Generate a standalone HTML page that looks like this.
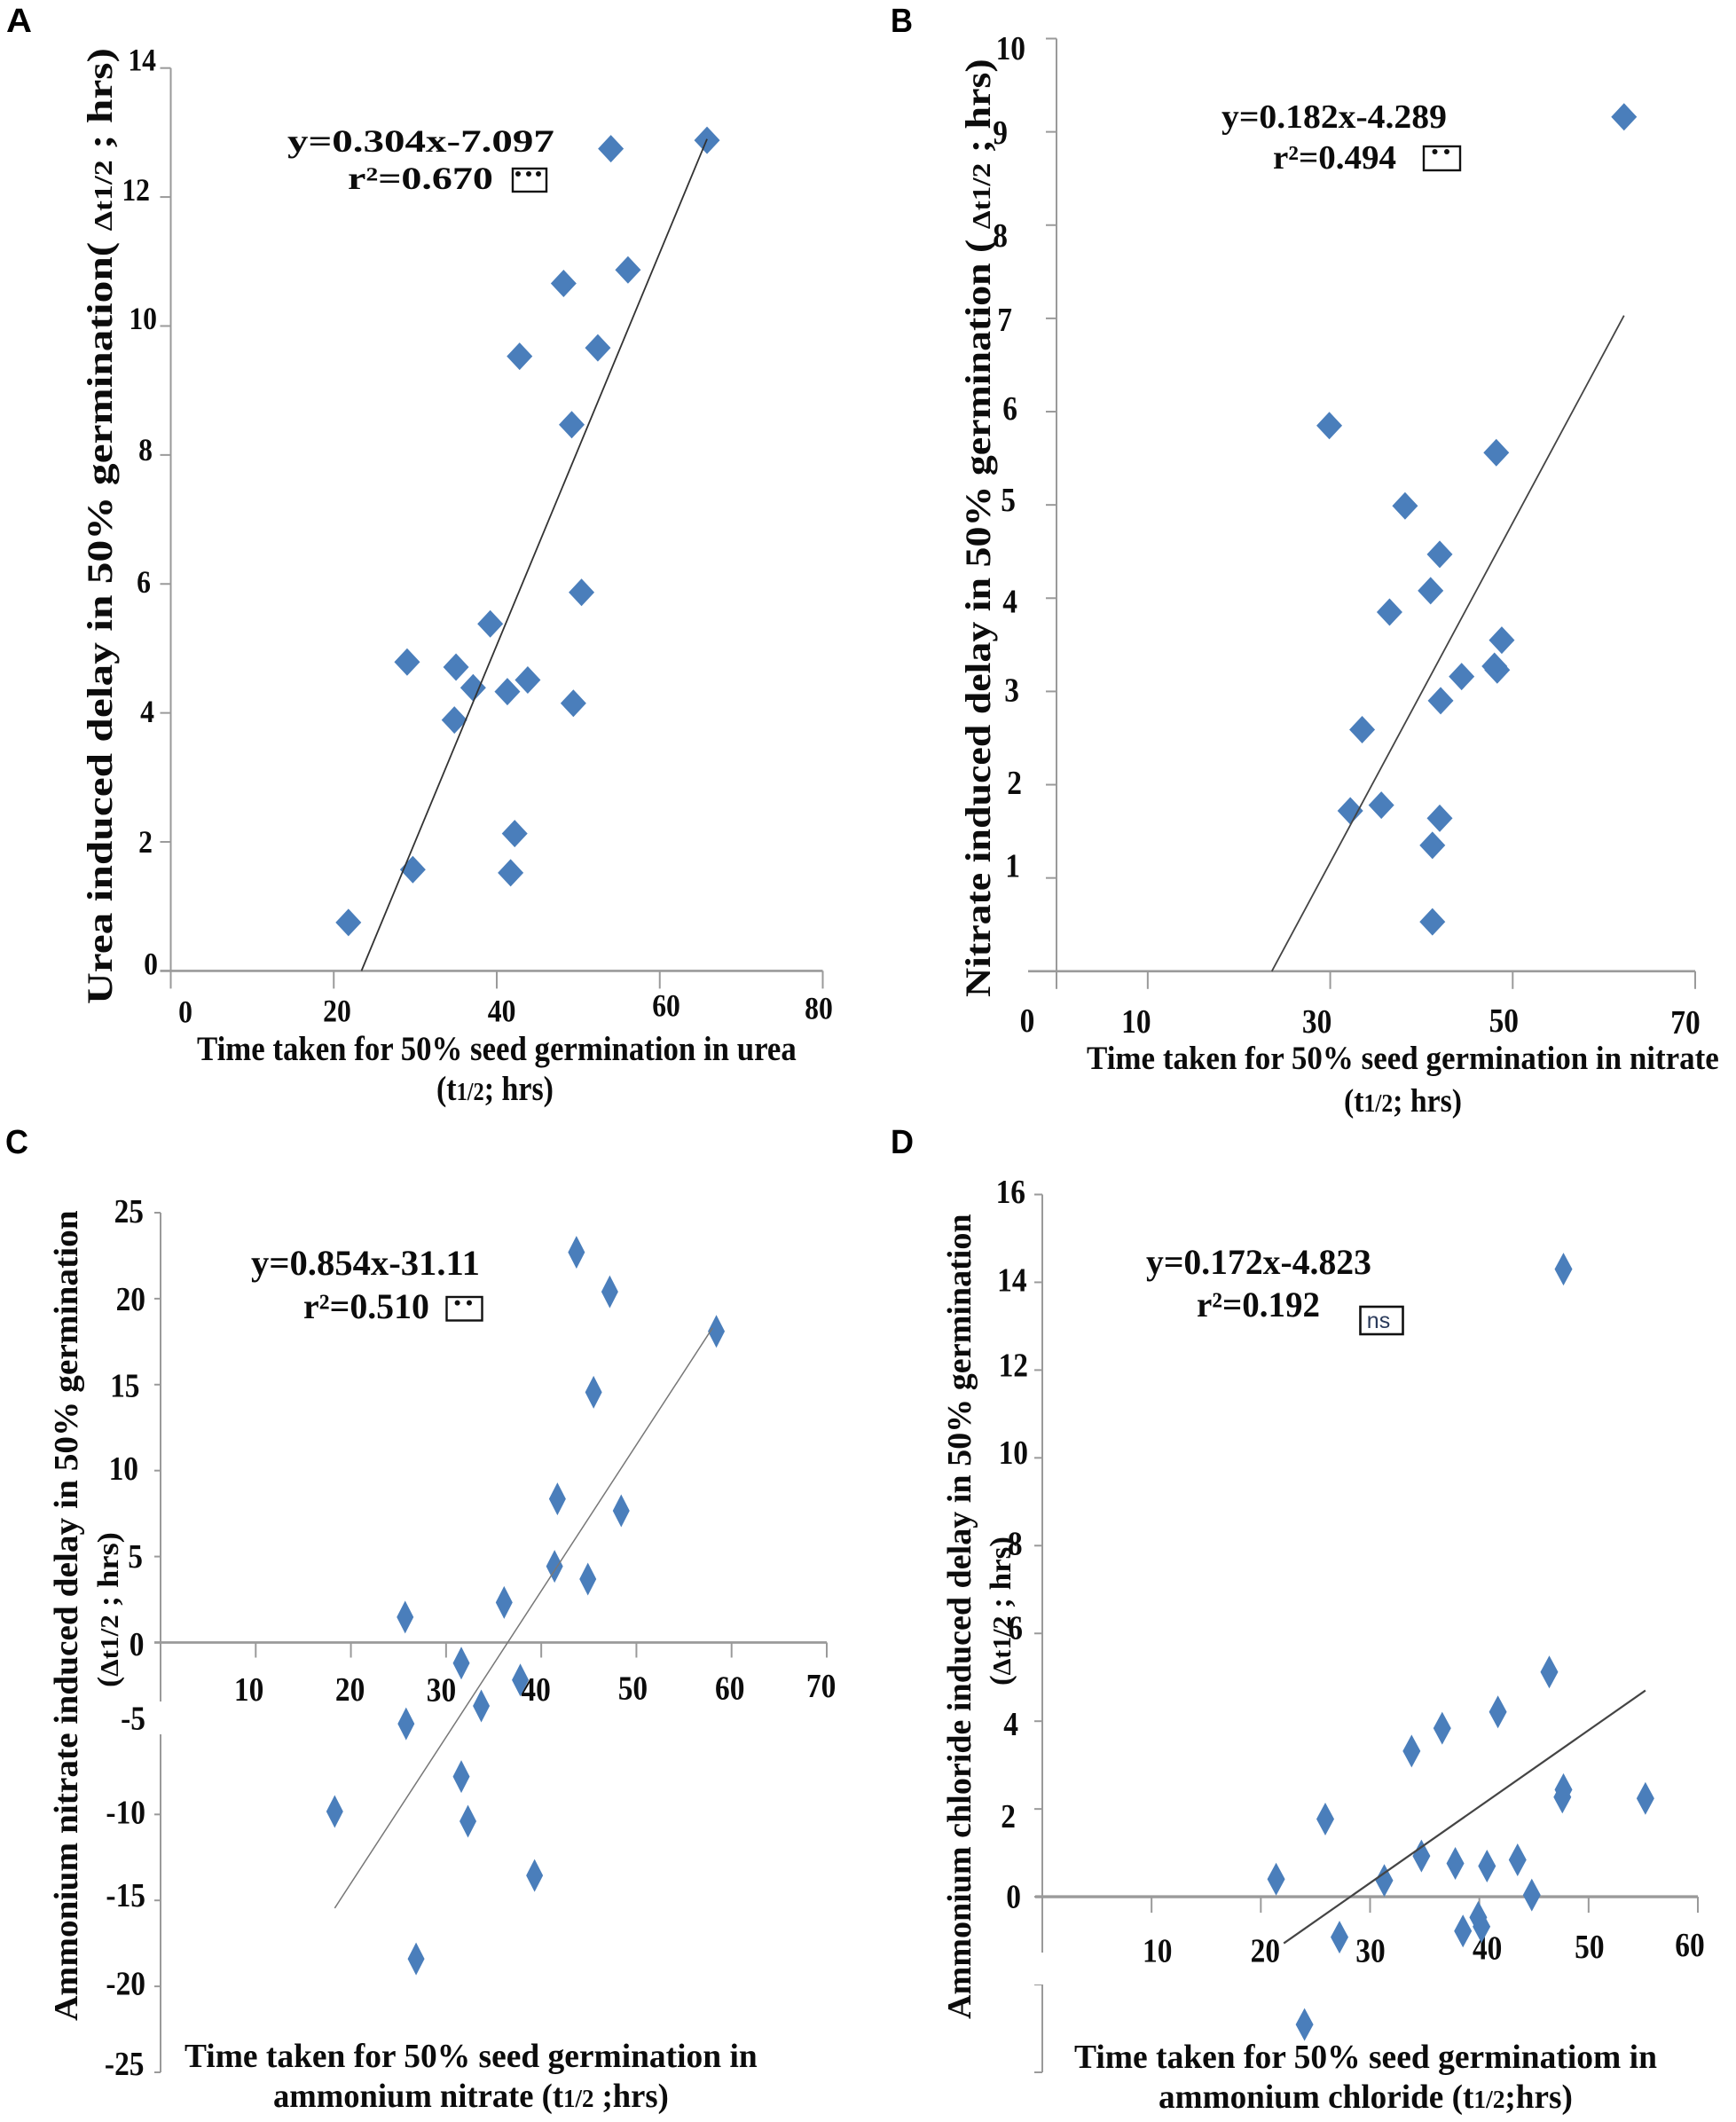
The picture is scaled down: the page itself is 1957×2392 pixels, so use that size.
<!DOCTYPE html>
<html lang="en">
<head>
<meta charset="utf-8">
<title>Germination delay scatter plots</title>
<style>
html,body{margin:0;padding:0;background:#fff;width:1957px;height:2392px;overflow:hidden}
svg{display:block}
text{font-family:"Liberation Serif",serif;font-weight:bold;fill:#0c0c0c}
.letter{font-family:"Liberation Sans",sans-serif;font-size:38px;fill:#000}
.eq{font-size:38px}
.xt{font-size:38px}
.yt{font-size:40px}
.sub{font-size:28px}
.dsub{font-size:29px}
</style>
</head>
<body>
<svg id="figure" xmlns="http://www.w3.org/2000/svg" width="1957" height="2392" viewBox="0 0 1957 2392">
  <rect width="1957" height="2392" fill="#fff"/>

  <g id="panel-a"></g>
  <g id="panel-b"></g>
  <g id="panel-c"></g>
  <g id="panel-d"></g>

  <!-- Panel letters -->
  <text class="letter" data-fit="29" x="7" y="36">A</text>
  <text class="letter" data-fit="25" x="1004" y="36">B</text>
  <text class="letter" data-fit="26" x="6" y="1300">C</text>
  <text class="letter" data-fit="26" x="1004" y="1300">D</text>

  <!-- Panel A text -->
  <text class="yt" data-fit="1078" data-rot="-90" x="126" y="1132">Urea induced delay in 50% germination( <tspan class="dsub">Δt1/2</tspan> ; hrs)</text>
  <text class="xt" style="font-size:39px" data-fit="676" x="222" y="1195">Time taken for 50% seed germination in urea</text>
  <text class="xt" style="font-size:39px" data-fit="132" x="492" y="1240">(t<tspan class="sub">1/2</tspan>; hrs)</text>
  <text class="eq" style="font-size:36px" data-fit="301" x="324" y="171">y=0.304x-7.097</text>
  <text class="eq" style="font-size:36px" data-fit="164" x="392" y="213">r²=0.670</text>
  <g>
    <rect x="578" y="190" width="38" height="26" fill="#fff" stroke="#111" stroke-width="2.4"/>
    <circle cx="584" cy="196" r="3" fill="#111"/><circle cx="596" cy="196" r="3" fill="#111"/><circle cx="607" cy="196" r="3" fill="#111"/>
  </g>

  <!-- Panel B text -->
  <text class="yt" data-fit="1058" data-rot="-90" x="1116" y="1124">Nitrate induced delay in 50% germination ( <tspan class="dsub">Δt1/2</tspan> ; hrs)</text>
  <text class="xt" style="font-size:37px" data-fit="713" x="1225" y="1205">Time taken for 50% seed germination in nitrate</text>
  <text class="xt" style="font-size:37px" data-fit="133" x="1515" y="1253">(t<tspan class="sub">1/2</tspan>; hrs)</text>
  <text class="eq" data-fit="254" x="1377" y="144">y=0.182x-4.289</text>
  <text class="eq" data-fit="139" x="1435" y="190">r²=0.494</text>
  <g>
    <rect x="1605" y="165" width="41" height="27" fill="#fff" stroke="#111" stroke-width="2.4"/>
    <circle cx="1617.5" cy="171" r="3" fill="#111"/><circle cx="1631" cy="171" r="3" fill="#111"/>
  </g>

  <!-- Panel C text -->
  <text class="yt" style="font-size:38px" data-fit="914" data-rot="-90" x="87" y="2278">Ammonium nitrate induced delay in 50% germination</text>
  <text class="yt" style="font-size:34px" data-fit="175" data-rot="-90" x="133" y="1902">(<tspan class="dsub">Δt1/2</tspan> ; hrs)</text>
  <text class="xt" data-fit="646" x="208" y="2330">Time taken for 50% seed germination in</text>
  <text class="xt" data-fit="446" x="308" y="2375">ammonium nitrate (t<tspan class="sub">1/2</tspan> ;hrs)</text>
  <text class="eq" style="font-size:40px" data-fit="258" x="283" y="1437">y=0.854x-31.11</text>
  <text class="eq" style="font-size:40px" data-fit="142" x="342" y="1486">r²=0.510</text>
  <g>
    <rect x="503.5" y="1462" width="40" height="26.5" fill="#fff" stroke="#111" stroke-width="2.4"/>
    <circle cx="515.6" cy="1468.6" r="3" fill="#111"/><circle cx="529" cy="1468.6" r="3" fill="#111"/>
  </g>

  <!-- Panel D text -->
  <text class="yt" style="font-size:38px" data-fit="908" data-rot="-90" x="1094" y="2276">Ammonium chloride induced delay in 50% germination</text>
  <text class="yt" style="font-size:34px" data-fit="168" data-rot="-90" x="1139" y="1900">(<tspan class="dsub">Δt1/2</tspan> ; hrs)</text>
  <text class="xt" data-fit="657" x="1211" y="2331">Time taken for 50% seed germinatiom in</text>
  <text class="xt" data-fit="467" x="1306" y="2376">ammonium chloride (t<tspan class="sub">1/2</tspan>;hrs)</text>
  <text class="eq" style="font-size:40px" data-fit="254" x="1292" y="1436">y=0.172x-4.823</text>
  <text class="eq" style="font-size:40px" data-fit="139" x="1349" y="1484">r²=0.192</text>
  <g>
    <rect x="1533.5" y="1473" width="48" height="31" fill="#fff" stroke="#111" stroke-width="2.6"/>
    <text x="1554" y="1497" text-anchor="middle" style="font-family:'Liberation Sans',sans-serif;font-weight:normal;font-size:25px;fill:#2a3a5a">ns</text>
  </g>
</svg>

<script>
// ---------- Panel A: urea ----------
const ureaX = [65.8,54.0,56.1,48.2,52.4,42.8,49.2,50.4,39.2,29.0,35.0,37.1,41.3,43.8,49.4,34.8,42.2,41.7,29.7,21.8];
const ureaY = [12.88,12.75,10.87,10.66,9.66,9.53,8.47,5.87,5.38,4.79,4.71,4.39,4.33,4.51,4.15,3.89,2.13,1.52,1.57,0.75];
const ureaTrendX = [23.4,65.8];
const ureaTrendY = [0,12.9];
const ureaXTicks = [0,20,40,60,80];
const ureaXTickLabels = ['0','20','40','60','80'];
const ureaYTicks = [14,12,10,8,6,4,2,0];
const ureaYTickLabels = ['14','12','10','8','6','4','2','0'];

// ---------- Panel B: nitrate ----------
const nitrateX = [62.2,29.9,48.2,38.2,42.0,41.0,36.5,48.8,48.0,48.3,44.4,42.1,33.5,32.2,35.6,42.0,41.2,41.2];
const nitrateY = [9.16,5.85,5.56,4.99,4.47,4.08,3.85,3.55,3.27,3.23,3.16,2.90,2.59,1.72,1.78,1.64,1.35,0.53];
const nitrateTrendX = [23.6,62.2];
const nitrateTrendY = [0,7.03];
const nitrateXTicks = [0,10,30,50,70];
const nitrateXTickLabels = ['0','10','30','50','70'];
const nitrateYTicks = [10,9,8,7,6,5,4,3,2,1];
const nitrateYTickLabels = ['10','9','8','7','6','5','4','3','2','1'];

// ---------- Panel C: ammonium nitrate ----------
const ammNitrateX = [43.7,47.2,58.4,45.5,41.7,48.4,41.4,44.9,36.1,25.7,31.6,37.8,33.7,25.8,31.6,18.3,32.3,39.3,26.85];
const ammNitrateY = [22.7,20.4,18.1,14.56,8.35,7.66,4.43,3.69,2.33,1.48,-1.2,-2.18,-3.69,-4.73,-7.8,-9.83,-10.4,-13.55,-18.4];
const ammNitrateTrendX = [18.3,58];
const ammNitrateTrendY = [-15.45,18.3];
const ammNitrateXTicks = [10,20,30,40,50,60,70];
const ammNitrateXTickLabels = ['10','20','30','40','50','60','70'];
const ammNitrateYTicks = [25,20,15,10,5,0,-5,-10,-15,-20,-25];
const ammNitrateYTickLabels = ['25','20','15','10','5','0','-5','-10','-15','-20','-25'];

// ---------- Panel D: ammonium chloride ----------
const ammChlorideX = [47.7,46.4,41.7,36.6,33.8,47.7,47.6,55.2,25.9,34.7,37.8,40.7,43.5,21.4,31.3,44.8,39.9,40.2,38.5,27.2,24.0];
const ammChlorideY = [14.3,5.12,4.21,3.84,3.32,2.44,2.27,2.24,1.77,0.93,0.76,0.70,0.84,0.40,0.37,0.04,-0.47,-0.68,-0.78,-0.92,-2.91];
const ammChlorideTrendX = [22.1,55.2];
const ammChlorideTrendY = [-1.06,4.70];
const ammChlorideXTicks = [10,20,30,40,50,60];
const ammChlorideXTickLabels = ['10','20','30','40','50','60'];
const ammChlorideYTicks = [16,14,12,10,8,6,4,2,0,-2,-4];
const ammChlorideYTickLabels = ['16','14','12','10','8','6','4','2','0','',''];

const SVG_NS = 'http://www.w3.org/2000/svg';

function make(tag, parent, attrs) {
  const node = document.createElementNS(SVG_NS, tag);
  for (const key in attrs) node.setAttribute(key, attrs[key]);
  parent.appendChild(node);
  return node;
}

function linear(d0, d1, r0, r1) {
  return function (v) { return r0 + (v - d0) * (r1 - r0) / (d1 - d0); };
}

function labelTransform(px, py, sxFactor) {
  return 'translate(' + px + ' ' + py + ') scale(' + sxFactor + ' 1)';
}

function drawPanel(o) {
  const root = document.getElementById(o.id);
  const sx = linear(o.xDomain[0], o.xDomain[1], o.xRange[0], o.xRange[1]);
  const sy = linear(o.yDomain[0], o.yDomain[1], o.yRange[0], o.yRange[1]);
  const axisY = sy(0);
  const axisX = sx(0);
  const axisColor = '#9a9a9a';

  // y axis
  const yAxis = make('line', root, {x1: axisX, x2: axisX, y1: sy(o.yDomain[1]), y2: sy(o.yDomain[0]), stroke: axisColor, 'stroke-width': 2});
  
  

  // y ticks
  o.yTicks.forEach(function (v, i) {
    const tick = make('line', root, {x1: axisX - o.yTickLen, x2: axisX, y1: sy(v), y2: sy(v), stroke: axisColor, 'stroke-width': 2});
    
    
    const label = o.yLabels[i];
    if (label === '') return;
    const n = o.yNudge[label] || [-18, 10];
    const t = make('text', root, {'text-anchor': 'end', 'font-size': o.tickFont, transform: labelTransform(axisX + n[0], sy(v) + n[1] + 1, 0.88)});
    
    
    t.textContent = label;
  });

  // mask that breaks the y axis (cut-and-paste gap in the original figure)
  if (o.gap) {
    const mask = make('rect', root, {x: axisX - 14, y: o.gap[0], width: 24, height: o.gap[1] - o.gap[0], fill: '#fff'});
    
    
  }

  // x axis
  const xAxis = make('line', root, {x1: axisX - o.xOverhang, x2: sx(o.xDomain[1]), y1: axisY, y2: axisY, stroke: axisColor, 'stroke-width': o.xAxisWidth});
  
  

  // x ticks
  o.xTicks.forEach(function (v, i) {
    const tick = make('line', root, {x1: sx(v), x2: sx(v), y1: axisY, y2: axisY + o.xTickLen, stroke: axisColor, 'stroke-width': 2});
    
    
    const label = o.xLabels[i];
    const n = o.xNudge[label] || [0, 60];
    const t = make('text', root, {'text-anchor': 'middle', 'font-size': o.tickFont, transform: labelTransform(sx(v) + n[0], axisY + n[1] + 1, 0.88)});
    
    
    t.textContent = label;
  });

  // points
  o.x.forEach(function (xv, i) {
    const px = sx(xv), py = sy(o.y[i]);
    const d = 'M' + (px - o.hw) + ' ' + py + 'L' + px + ' ' + (py - o.hh) + 'L' + (px + o.hw) + ' ' + py + 'L' + px + ' ' + (py + o.hh) + 'Z';
    const point = make('path', root, {d: d, fill: '#4a7ebb'});
    
    
  });

  // trend line
  const trend = make('line', root, {
    x1: sx(o.trendX[0]), y1: sy(o.trendY[0]),
    x2: sx(o.trendX[1]), y2: sy(o.trendY[1]),
    stroke: o.trendColor, 'stroke-width': o.trendWidth
  });
  
  
}

drawPanel({
  id: 'panel-a', key: 'panel-a',
  x: ureaX, y: ureaY, trendX: ureaTrendX, trendY: ureaTrendY,
  xTicks: ureaXTicks, xLabels: ureaXTickLabels, yTicks: ureaYTicks, yLabels: ureaYTickLabels,
  xDomain: [0, 80], xRange: [192.5, 927.5], yDomain: [0, 14], yRange: [1094.4, 76.7],
  yTickLen: 12, xTickLen: 20, xOverhang: 12, xAxisWidth: 2.6, tickFont: 36,
  hw: 14.5, hh: 15.5, trendColor: '#333', trendWidth: 1.8,
  xNudge: {'0': [16.5, 57], '20': [3.7, 56], '40': [5.6, 56], '60': [7.3, 50], '80': [-4.5, 53]},
  yNudge: {'14': [-16.5, 2], '12': [-23.5, 3], '10': [-15.5, 2.5], '8': [-20.5, 5], '6': [-22.5, 9], '4': [-18.5, 9.4], '2': [-20.5, 11], '0': [-14.5, 3]}
});

drawPanel({
  id: 'panel-b', key: 'panel-b',
  x: nitrateX, y: nitrateY, trendX: nitrateTrendX, trendY: nitrateTrendY,
  xTicks: nitrateXTicks, xLabels: nitrateXTickLabels, yTicks: nitrateYTicks, yLabels: nitrateYTickLabels,
  xDomain: [0, 70], xRange: [1191, 1911], yDomain: [0, 10], yRange: [1094.8, 43.5],
  yTickLen: 12, xTickLen: 20, xOverhang: 32, xAxisWidth: 2.6, tickFont: 38,
  hw: 14.5, hh: 15.5, trendColor: '#444', trendWidth: 1.8,
  xNudge: {'0': [-33, 67], '10': [-13, 68], '30': [-15, 68], '50': [-10, 67], '70': [-11, 69]},
  yNudge: {'10': [-35, 22.5], '9': [-55, 12.4], '8': [-55, 23], '7': [-50, 13], '6': [-44, 8], '5': [-46, 6], '4': [-44, 15], '3': [-42, 10], '2': [-39, 9.5], '1': [-41, -2]}
});

drawPanel({
  id: 'panel-c', key: 'panel-c',
  x: ammNitrateX, y: ammNitrateY, trendX: ammNitrateTrendX, trendY: ammNitrateTrendY,
  xTicks: ammNitrateXTicks, xLabels: ammNitrateXTickLabels, yTicks: ammNitrateYTicks, yLabels: ammNitrateYTickLabels,
  xDomain: [0, 70], xRange: [181, 932], yDomain: [-25, 25], yRange: [2336, 1367],
  yTickLen: 7, xTickLen: 17, xOverhang: 7, xAxisWidth: 2.8, tickFont: 38,
  hw: 9.5, hh: 18.5, trendColor: '#777', trendWidth: 1.5, gap: [1918, 1955],
  xNudge: {'10': [-7.7, 64.5], '20': [-1, 64.5], '30': [-5.4, 65], '40': [-6, 64.5], '50': [-4, 63], '60': [-2, 63], '70': [-6.4, 60.5]},
  yNudge: {'25': [-19, 10], '20': [-17, 12], '15': [-23.5, 12.6], '10': [-25, 9.3], '5': [-20, 11.4], '0': [-18.5, 13.5], '-5': [-17, 0], '-10': [-17, 9], '-15': [-17, 6], '-20': [-17, 8.6], '-25': [-18.5, 2]}
});

drawPanel({
  id: 'panel-d', key: 'panel-d',
  x: ammChlorideX, y: ammChlorideY, trendX: ammChlorideTrendX, trendY: ammChlorideTrendY,
  xTicks: ammChlorideXTicks, xLabels: ammChlorideXTickLabels, yTicks: ammChlorideYTicks, yLabels: ammChlorideYTickLabels,
  xDomain: [0, 60], xRange: [1175, 1914], yDomain: [-4, 16], yRange: [2336, 1346.5],
  yTickLen: 9, xTickLen: 18, xOverhang: 8, xAxisWidth: 3.4, tickFont: 38,
  hw: 10, hh: 18.5, trendColor: '#444', trendWidth: 2.2, gap: [2201, 2237],
  xNudge: {'10': [6.6, 72.5], '20': [5, 72.5], '30': [0.5, 72.5], '40': [9, 69.5], '50': [1, 68], '60': [-9, 66]},
  yNudge: {'16': [-19, 8.5], '14': [-17.4, 9], '12': [-16, 6], '10': [-16, 5.6], '8': [-22.4, 9], '6': [-22, 5], '4': [-27, 15], '2': [-30, 20], '0': [-24, 11.5]}
});

// Stretch static labels so they cover the same length as in the reference.
document.querySelectorAll('[data-fit]').forEach(function (node) {
  const target = parseFloat(node.getAttribute('data-fit'));
  const rot = parseFloat(node.getAttribute('data-rot') || '0');
  const x = parseFloat(node.getAttribute('x'));
  const y = parseFloat(node.getAttribute('y'));
  const natural = node.getComputedTextLength();
  node.setAttribute('x', 0);
  node.setAttribute('y', 0);
  node.setAttribute('transform', 'translate(' + x + ' ' + y + ') rotate(' + rot + ') scale(' + (target / natural) + ' 1)');
});
</script>
</body>
</html>
